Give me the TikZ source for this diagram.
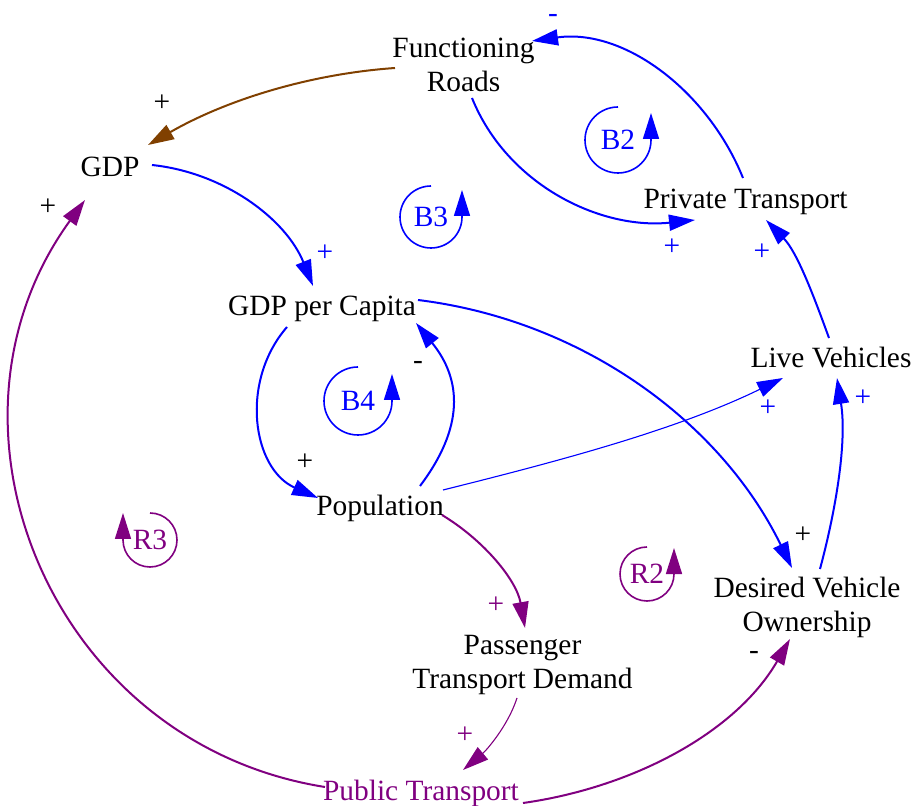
\documentclass[tikz,border=0pt]{standalone}
\usepackage{fontspec}
\setmainfont{Liberation Serif}
\newfontfamily\cldfont{Liberation Serif}
\usetikzlibrary{arrows.meta}

\definecolor{vblue}{RGB}{0,0,255}
\definecolor{vpurple}{RGB}{128,0,128}
\definecolor{vbrown}{RGB}{128,64,0}

\tikzset{
  var/.style={inner sep=0pt, align=center},
  link/.style={-{Triangle[length=13pt,width=8pt]}, line width=1pt},
  thinlink/.style={link, line width=0.55pt},
  pol/.style={inner sep=0pt},
  loopmark/.style={-{Triangle[length=13pt,width=8pt]}, line width=0.8pt},
}

\begin{document}
\begin{tikzpicture}[x=0.5pt, y=0.5pt, font=\cldfont\fontsize{14.7}{17}\selectfont]
  \useasboundingbox (0,0) rectangle (915,-806);

  % variables
  \node[var, anchor=base] (gdp) at (110,-177) {GDP};
  \node[var, anchor=base] (gpc) at (322,-316) {GDP per Capita};
  \node[var, anchor=base] (pt)  at (745.5,-209) {Private Transport};
  \node[var, anchor=base] (lv)  at (831,-368) {Live Vehicles};
  \node[var, anchor=base] (pop) at (380,-516) {Population};
  \node[var, anchor=base, text=vpurple] (pub) at (421,-800) {Public Transport};
  \node[var] (fr)  at (463.5,-65) {Functioning\\Roads};
  \node[var] (dvo) at (807,-607) {Desired Vehicle\\Ownership};
  \node[var] (ptd) at (522.5,-665) {Passenger\\Transport Demand};

  % causal links
  \draw[link, vbrown] ([shift={(-68.5,-3)}]fr.center) to[out=184, in=30, looseness=0.87] ([shift={(38,32)}]gdp.base);
  \draw[link, vblue] ([shift={(42,12)}]gdp.base) to[out=-6, in=112, looseness=0.92] ([shift={(-9,30)}]gpc.base);
  \draw[link, vblue] ([shift={(8.5,-33)}]fr.center) to[out=-68, in=186, looseness=0.95] ([shift={(-50.5,-11)}]pt.base);
  \draw[link, vblue] ([shift={(-2.5,31)}]pt.base) to[out=112, in=8, looseness=0.95] ([shift={(68.5,24)}]fr.center);
  \draw[link, vblue] ([shift={(-2,30)}]lv.base) to[out=110, in=-46, looseness=0.86] ([shift={(20.5,-11)}]pt.base);
  \draw[link, vblue] ([shift={(-35,-11)}]gpc.base) to[out=229, in=156, looseness=1.06] ([shift={(-62,18)}]pop.base);
  \draw[link, vblue] ([shift={(40,30)}]pop.base) to[out=53, in=309, looseness=1.15] ([shift={(94,-7)}]gpc.base);
  \draw[thinlink, vblue] ([shift={(63,26)}]pop.base) to[out=14, in=206, looseness=0.85] ([shift={(-48,-10)}]lv.base);
  \draw[link, vblue] ([shift={(96,16)}]gpc.base) to[out=-7, in=116, looseness=0.91] ([shift={(-15,39)}]dvo.center);
  \draw[link, vblue] ([shift={(13,38)}]dvo.center) to[out=75, in=-81, looseness=0.85] ([shift={(6,-10)}]lv.base);
  \draw[link, vpurple] ([shift={(62,1)}]pop.base) to[out=-31, in=100, looseness=0.89] ([shift={(2.5,37)}]ptd.center);
  \draw[thinlink, vpurple] ([shift={(-5.5,-33)}]ptd.center) to[out=252, in=40, looseness=0.85] ([shift={(42,30)}]pub.base);
  \draw[link, vpurple] ([shift={(102,-3)}]pub.base) to[out=8, in=240, looseness=0.89] ([shift={(-17,-32)}]dvo.center);
  \draw[link, vpurple] ([shift={(-96,13)}]pub.base) to[out=171, in=234, looseness=1.12] ([shift={(-25,-23)}]gdp.base);

  % link polarities
  \node[pol] (p1)  at (162,-103) {+};
  \node[pol, text=vblue] (p2)  at (325,-253) {+};
  \node[pol, text=vblue] (p3)  at (672,-247) {+};
  \node[pol, text=vblue] (p4)  at (553,-18) {-};
  \node[pol, text=vblue] (p5)  at (762,-252) {+};
  \node[pol] (p6)  at (305,-462) {+};
  \node[pol] (p7)  at (418,-365) {-};
  \node[pol, text=vblue] (p8)  at (768,-408) {+};
  \node[pol] (p9)  at (803,-535) {+};
  \node[pol, text=vblue] (p10) at (863,-398) {+};
  \node[pol, text=vpurple] (p11) at (496,-605) {+};
  \node[pol, text=vpurple] (p12) at (465,-735) {+};
  \node[pol] (p13) at (754,-655) {-};
  \node[pol] (p14) at (48,-207) {+};

  % loop identifiers
  \node[text=vblue] (b2) at (618,-140) {B2};
  \draw[loopmark, vblue] ([shift={(0,33)}]b2.center) arc[start angle=90, end angle=360, radius=33] -- ++(0,27);
  \node[text=vblue] (b3) at (431,-217) {B3};
  \draw[loopmark, vblue] ([shift={(0,31)}]b3.center) arc[start angle=90, end angle=360, radius=31] -- ++(0,27);
  \node[text=vblue] (b4) at (358,-401) {B4};
  \draw[loopmark, vblue] ([shift={(0,34)}]b4.center) arc[start angle=90, end angle=360, radius=34] -- ++(0,27);
  \node[text=vpurple] (r2) at (647,-574) {R2};
  \draw[loopmark, vpurple] ([shift={(0,27)}]r2.center) arc[start angle=90, end angle=360, radius=27] -- ++(0,26);
  \node[text=vpurple] (r3) at (150,-540) {R3};
  \draw[loopmark, vpurple] ([shift={(0,27)}]r3.center) arc[start angle=90, end angle=-180, radius=27] -- ++(0,27);
\end{tikzpicture}
\end{document}
